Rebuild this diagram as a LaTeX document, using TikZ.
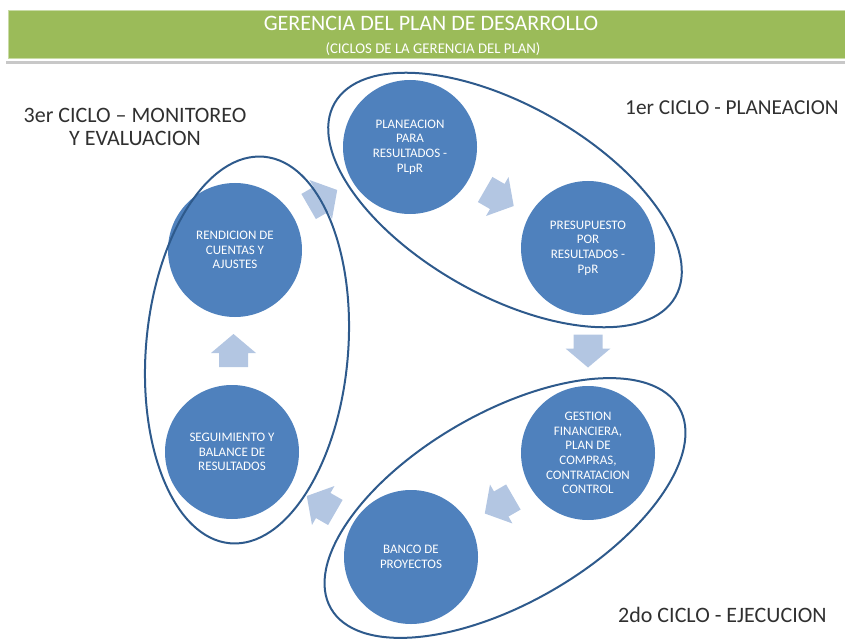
\documentclass[tikz,border=0pt]{standalone}
\usepackage{fontspec}
\setmainfont{Carlito}
\usetikzlibrary{calc}
\definecolor{hdrgreen}{HTML}{9BBB59}
\definecolor{hdrborder}{HTML}{C9DBA6}
\definecolor{hdrgray}{HTML}{C8C8C8}
\definecolor{stagefill}{HTML}{4F81BD}
\definecolor{arrowfill}{HTML}{B3C6E2}
\definecolor{ringcol}{HTML}{2E5A8C}
\definecolor{labelcol}{HTML}{303030}
\begin{document}
\begin{tikzpicture}[x=1pt,y=1pt,
  stage/.style={circle, fill=stagefill, minimum size=134pt, inner sep=0pt,
    text=white, align=center, font=\fontsize{13}{14.7}\selectfont},
  ring/.style={draw=ringcol, line width=2pt},
  cyclabel/.style={text=labelcol, font=\fontsize{22}{23}\selectfont, inner sep=0pt},
  cyclearrow/.pic={\fill[arrowfill] (-16,-14.5) -- (-2,-14.5) -- (-2,-22.5) -- (17,0)
      -- (-2,22.5) -- (-2,14.5) -- (-16,14.5) -- cycle;}
]
\useasboundingbox (0,0) rectangle (845,641);
% header
\fill[hdrgreen, draw=hdrborder, line width=0.8pt] (8,631) rectangle (846,583);
\fill[hdrgray] (6,580) rectangle (845,577);
\node[anchor=base, text=white, font=\fontsize{22}{24}\selectfont, inner sep=0pt] (title) at (431,610) {GERENCIA DEL PLAN DE DESARROLLO};
\node[anchor=base, text=white, font=\fontsize{14.8}{16}\selectfont, inner sep=0pt] (subtitle) at (433,587) {(CICLOS DE LA GERENCIA DEL PLAN)};
% stages
\node[stage] (pl) at (410,494) {PLANEACION\\PARA\\RESULTADOS -\\PLpR};
\node[stage] (pr) at (588,393) {PRESUPUESTO\\POR\\RESULTADOS -\\PpR};
\node[stage] (ge) at (588,188) {GESTION\\FINANCIERA,\\PLAN DE\\COMPRAS,\\CONTRATACION\\CONTROL};
\node[stage] (ba) at (411,84) {BANCO DE\\PROYECTOS};
\node[stage] (se) at (232,189) {SEGUIMIENTO Y\\BALANCE DE\\RESULTADOS};
\node[stage] (re) at (235,391) {RENDICION DE\\CUENTAS Y\\AJUSTES};
% arrows
\pic[rotate=-30] (a1) at ($(pl)!0.5!(pr)$) {cyclearrow};
\pic[rotate=-90] (a2) at ($(pr)!0.5!(ge)$) {cyclearrow};
\pic[rotate=210] (a3) at ($(ge)!0.5!(ba)$) {cyclearrow};
\pic[rotate=150] (a4) at ($(ba)!0.5!(se)$) {cyclearrow};
\pic[rotate=90] (a5) at ($(se)!0.5!(re)$) {cyclearrow};
\pic[rotate=30] (a6) at ($(re)!0.5!(pl)$) {cyclearrow};
% cycle rings
\draw[ring] (505,441) ellipse [x radius=196, y radius=95, rotate=-29.6];
\draw[ring] (505,133) ellipse [x radius=201, y radius=95, rotate=30];
\draw[ring] (247,291) ellipse [x radius=101, y radius=194, rotate=-5];
% labels
\node[cyclabel, align=center] (l3) at (135,514) {3er CICLO – MONITOREO\\Y EVALUACION};
\node[cyclabel, anchor=base west, font=\fontsize{21.3}{23}\selectfont] (l1) at (625,526) {1er CICLO - PLANEACION};
\node[cyclabel, anchor=base west] (l2) at (618,19) {2do CICLO - EJECUCION};
\end{tikzpicture}
\end{document}
